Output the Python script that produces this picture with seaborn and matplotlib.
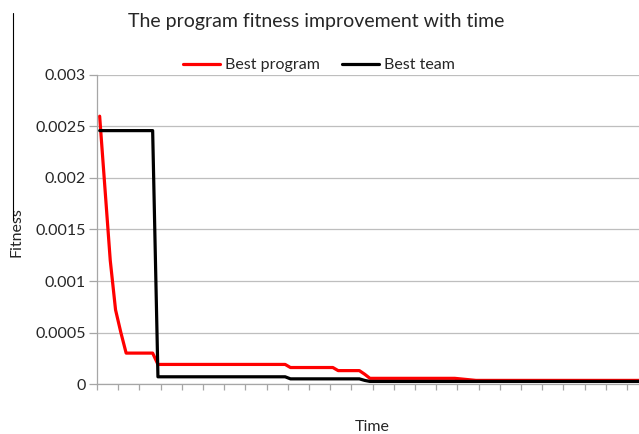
import numpy as np
import pandas as pd
import matplotlib
matplotlib.use("Agg")
import matplotlib.pyplot as plt
from matplotlib.lines import Line2D
import seaborn as sns

# =========================
# DATA
# =========================
series_names = ["Best program", "Best team"]

best_program = ([0.0026, 0.0019, 0.0012, 0.00072, 0.0005]
                + [0.0003] * 6
                + [0.00019] * 25
                + [0.00016] * 9
                + [0.00013] * 5
                + [0.000095]
                + [0.000055] * 17
                + [0.00005, 0.000045, 0.00004]
                + [0.000035] * 32)

best_team = ([0.00246] * 11
             + [0.00007] * 25
             + [0.00005] * 14
             + [0.000035]
             + [0.000025] * 52)

time_steps = list(range(len(best_program)))

y_ticks = [0, 0.0005, 0.001, 0.0015, 0.002, 0.0025, 0.003]
y_tick_labels = ["0", "0.0005", "0.001", "0.0015", "0.002", "0.0025", "0.003"]

df = pd.DataFrame({
    "Time": time_steps * 2,
    "Fitness": best_program + best_team,
    "Series": [series_names[0]] * len(best_program) + [series_names[1]] * len(best_team),
})

# =========================
# PLOT
# =========================
sns.set_style("white")
plt.rcParams["font.family"] = ["Lato", "DejaVu Sans"]

fig = plt.figure(figsize=(6.39, 4.34), dpi=100)
ax = fig.add_axes([0.1518, 0.1152, 0.8482, 0.712])

sns.lineplot(data=df, x="Time", y="Fitness", hue="Series", hue_order=series_names,
             palette={"Best program": "#FF0000", "Best team": "#000000"},
             linewidth=2.3, ax=ax)

ax.set_xlim(-0.5, -0.5 + 542 / 5.3)
ax.set_ylim(0, 0.003)
ax.set_yticks(y_ticks)
ax.set_yticklabels(y_tick_labels, fontsize=11.5)
ax.set_xticks(np.arange(-0.5, 103, 4))
ax.set_xticklabels([])
ax.grid(axis="y", color="#BEBEBE", linewidth=0.9)
ax.grid(axis="x", visible=False)
ax.set_axisbelow(True)

for side in ["top", "right"]:
    ax.spines[side].set_visible(False)
for side in ["left", "bottom"]:
    ax.spines[side].set_color("#A6A6A6")
    ax.spines[side].set_linewidth(0.9)
ax.tick_params(axis="y", length=6, width=0.9, color="#A6A6A6", pad=2, left=True)
ax.tick_params(axis="x", length=4, width=0.9, color="#A6A6A6", bottom=True)

ax.set_xlabel("Time", fontsize=11.5)
ax.xaxis.set_label_coords(0.507, -0.1165)
ax.set_ylabel("Fitness", fontsize=11.5)
ax.yaxis.set_label_coords(-0.1365, 0.492)

handles, labels = ax.get_legend_handles_labels()
ax.get_legend().remove()
fig.legend(handles, labels, loc="center", bbox_to_anchor=(319 / 639, 0.85), ncol=2,
           frameon=False, fontsize=11.5, handlelength=2.3, handletextpad=0.3,
           columnspacing=1.4)

fig.text(316 / 639, 1 - 22 / 434, "The program fitness improvement with time",
         ha="center", va="center", fontsize=14)

# stray border line at the left of the original picture
fig.add_artist(Line2D([0.0199, 0.0199], [0.970, 0.493], color="black", linewidth=0.8))

fig.savefig("out.png", dpi=100)
